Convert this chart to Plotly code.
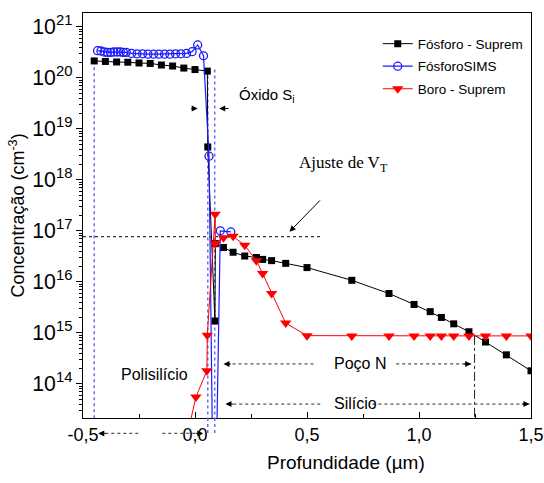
import math
import plotly.graph_objects as go

# ---------------- data ----------------
fosforo_suprem_x = [-0.45, -0.40, -0.35, -0.30, -0.25, -0.20, -0.15, -0.10, -0.05, 0.0, 0.055,
                    0.057, 0.089, 0.091, 0.127, 0.17, 0.222, 0.274, 0.302, 0.342, 0.405, 0.5,
                    0.7, 0.866, 0.978, 1.05, 1.1, 1.155, 1.223, 1.297, 1.39, 1.5]
fosforo_suprem_y = [2.14e20, 2.09e20, 2.04e20, 2.02e20, 1.95e20, 1.91e20, 1.78e20, 1.70e20, 1.55e20, 1.45e20, 1.35e20,
                    4.4e18, 1.7e15, 5.6e16, 4.7e16, 3.8e16, 3.2e16, 3.0e16, 2.75e16, 2.6e16, 2.3e16, 1.9e16,
                    1.07e16, 5.9e15, 3.6e15, 2.6e15, 2.0e15, 1.5e15, 1.05e15, 6.6e14, 3.7e14, 1.8e14]

fosforo_sims_x = [-0.435, -0.42, -0.405, -0.391, -0.377, -0.362, -0.347, -0.333, -0.32, -0.307,
                  -0.283, -0.259, -0.234, -0.21, -0.185, -0.161, -0.136, -0.112, -0.087, -0.063,
                  -0.038, -0.013, 0.012, 0.038, 0.0625, 0.077, 0.098, 0.113, 0.16]
fosforo_sims_y = [3.4e20, 3.35e20, 3.2e20, 3.15e20, 3.15e20, 3.2e20, 3.2e20, 3.2e20, 3.15e20, 3.15e20,
                  3.0e20, 2.95e20, 2.95e20, 2.9e20, 2.9e20, 2.9e20, 2.9e20, 2.9e20, 2.95e20, 2.95e20,
                  3.0e20, 3.25e20, 4.4e20, 2.7e20, 2.9e18, 1.5e13, 1.5e13, 1.0e17, 9.5e16]

boro_suprem_x = [-0.034, 0.004, 0.053, 0.055, 0.09, 0.091, 0.127, 0.17, 0.222, 0.274, 0.302, 0.342,
                 0.405, 0.5, 0.7, 0.866, 0.978, 1.05, 1.1, 1.155, 1.223, 1.297, 1.39, 1.5]
boro_suprem_y = [1.0e13, 5.5e13, 1.8e14, 9.0e14, 2.1e17, 5.6e16, 7.3e16, 7.8e16, 5.2e16, 2.6e16, 1.45e16, 5.9e15,
                 1.55e15, 8.8e14, 8.7e14, 8.7e14, 8.7e14, 8.7e14, 8.7e14, 8.7e14, 8.7e14, 8.7e14, 8.7e14, 8.7e14]

series_names = ["Fósforo - Suprem", "FósforoSIMS", "Boro - Suprem"]

x_tick_vals = [-0.5, 0.0, 0.5, 1.0, 1.5]
x_tick_text = ["-0,5", "0,0", "0,5", "1,0", "1,5"]

# reference marks
polisilicio_edge_x = -0.45
polisilicio_top_y = 2.1e20
oxide_edges_x = [0.057, 0.088]
oxide_top_y = 1.45e20
ajuste_vt_y = 7.7e16
ajuste_vt_x = [-0.5, 0.565]
juncao_x = 1.248
juncao_top_y = 8.7e14

x_range = [-0.5, 1.5]
y_range_log = [13.33, 21.27]
y_floor = 10 ** y_range_log[0]

SANS = "Liberation Sans, Arial, sans-serif"
SERIF = "Liberation Serif, Times New Roman, serif"

fig = go.Figure()

ref_blue = dict(color="#6a6aff", width=1.5, dash="dot")

# reference lines (drawn behind data)
fig.add_trace(go.Scatter(x=[polisilicio_edge_x, polisilicio_edge_x], y=[polisilicio_top_y, y_floor],
                         mode="lines", line=ref_blue, showlegend=False, hoverinfo="skip"))
for xe in oxide_edges_x:
    fig.add_trace(go.Scatter(x=[xe, xe], y=[oxide_top_y, y_floor], mode="lines", line=ref_blue,
                             showlegend=False, hoverinfo="skip"))
    fig.add_shape(type="line", xref="x", yref="paper", x0=xe, x1=xe, y0=0, y1=-0.042,
                  line=ref_blue)
fig.add_trace(go.Scatter(x=ajuste_vt_x, y=[ajuste_vt_y, ajuste_vt_y], mode="lines",
                         line=dict(color="#333333", width=1.3, dash="dot"),
                         showlegend=False, hoverinfo="skip"))
fig.add_trace(go.Scatter(x=[juncao_x, juncao_x], y=[juncao_top_y, y_floor], mode="lines",
                         line=dict(color="#222222", width=1, dash="dashdot"),
                         showlegend=False, hoverinfo="skip"))

# data series
fig.add_trace(go.Scatter(x=fosforo_suprem_x, y=fosforo_suprem_y, mode="lines+markers", name=series_names[0],
                         legendgroup="a", line=dict(color="black", width=1),
                         marker=dict(symbol="square", size=7, color="black")))
fig.add_trace(go.Scatter(x=fosforo_sims_x, y=fosforo_sims_y, mode="lines+markers", name=series_names[1],
                         legendgroup="b", line=dict(color="#1a1aff", width=1.2),
                         marker=dict(symbol="circle-open", size=8, color="#1a1aff", line=dict(width=1.3))))
fig.add_trace(go.Scatter(x=boro_suprem_x, y=boro_suprem_y, mode="lines+markers", name=series_names[2],
                         legendgroup="c", line=dict(color="#ff0000", width=1),
                         marker=dict(symbol="triangle-down", size=10, color="#ff0000")))

annotations = []

def text_ann(txt, x, y_val, font, xanchor="left"):
    annotations.append(dict(text=txt, x=x, y=math.log10(y_val), xref="x", yref="y",
                            showarrow=False, xanchor=xanchor, yanchor="middle", font=font))

def head(x_tip, y_val, dx_px, yref="y", color="black"):
    yy = math.log10(y_val) if yref == "y" else y_val
    annotations.append(dict(text="", x=x_tip, y=yy, xref="x", yref=yref, showarrow=True,
                            ax=dx_px, ay=0, arrowhead=2, arrowsize=1.2, arrowwidth=1,
                            arrowcolor=color, standoff=0))

def dotted_arrow(x_from, x_to, y_val, yref="y"):
    if yref == "y":
        fig.add_trace(go.Scatter(x=[x_from, x_to], y=[y_val, y_val], mode="lines",
                                 line=dict(color="#555555", width=1.2, dash="dot"),
                                 showlegend=False, hoverinfo="skip"))
    else:
        fig.add_shape(type="line", xref="x", yref="paper", x0=x_from, x1=x_to, y0=y_val, y1=y_val,
                      line=dict(color="#555555", width=1.2, dash="dot"))
    head(x_to, y_val, 9 if x_to < x_from else -9, yref=yref)

label_font = dict(family=SANS, size=16, color="black")

# Óxido Si
text_ann("Óxido S<sub>i</sub>", 0.189, 4.4e19, dict(family=SANS, size=15, color="black"))
head(0.012, 2.5e19, -8)
head(0.108, 2.5e19, 11)

# Ajuste de VT
text_ann("Ajuste de V<sub>T</sub>", 0.455, 2.0e18, dict(family=SERIF, size=17, color="black"))
annotations.append(dict(text="", x=0.422, y=math.log10(9.6e16), xref="x", yref="y",
                        ax=0.564, ay=math.log10(4.2e17), axref="x", ayref="y",
                        showarrow=True, arrowhead=2, arrowsize=1.2, arrowwidth=1, arrowcolor="black",
                        standoff=0))

# Poço N
text_ann("Poço N", 0.613, 2.45e14, label_font)
dotted_arrow(0.529, 0.127, 2.45e14)
dotted_arrow(0.898, 1.233, 2.45e14)

# Silício
text_ann("Silício", 0.613, 4.1e13, label_font)
dotted_arrow(0.559, 0.136, 4.0e13)
dotted_arrow(0.792, 1.493, 4.0e13)

# Polisilício
text_ann("Polisilício", -0.18, 1.55e14, label_font, xanchor="center")

# arrows below the axis
dotted_arrow(-0.253, -0.432, -0.038, yref="paper")
dotted_arrow(-0.146, 0.037, -0.038, yref="paper")

# x axis title (placed right of centre, as in the reference)
annotations.append(dict(text="Profundidade (µm)", x=0.675, y=-0.11, xref="x", yref="paper",
                        showarrow=False, xanchor="center", yanchor="middle",
                        font=dict(family=SANS, size=19, color="black")))

fig.update_layout(
    width=544, height=483,
    margin=dict(l=83, r=13, t=13, b=65, autoexpand=False),
    paper_bgcolor="white", plot_bgcolor="white",
    separators=",.",
    font=dict(family=SANS, color="black"),
    annotations=annotations,
    legend=dict(x=0.995, y=0.962, xanchor="right", yanchor="top", bgcolor="rgba(0,0,0,0)",
                font=dict(family=SANS, size=13.5, color="black"), tracegroupgap=2),
)

fig.update_xaxes(
    range=x_range, tickvals=x_tick_vals, ticktext=x_tick_text, automargin=False,
    ticks="inside", ticklen=6, tickwidth=1, tickcolor="black",
    minor=dict(dtick=0.25, tick0=-0.5, ticks="inside", ticklen=4, tickcolor="black", showgrid=False),
    showline=True, linewidth=1.3, linecolor="black", mirror=True,
    showgrid=False, zeroline=False,
    tickfont=dict(family=SANS, size=18, color="black"),
)
fig.update_yaxes(
    type="log", range=y_range_log, dtick=1, exponentformat="power", automargin=False,
    ticks="outside", ticklen=6, tickwidth=1, tickcolor="black",
    minor=dict(dtick="D1", ticks="outside", ticklen=3, tickcolor="black", showgrid=False),
    showline=True, linewidth=1.3, linecolor="black", mirror=True,
    showgrid=False, zeroline=False,
    tickfont=dict(family=SANS, size=17, color="black"),
    title=dict(text="Concentração (cm<sup>-3</sup>)", font=dict(family=SANS, size=18, color="black"), standoff=2),
)

fig.write_html("out.html")
